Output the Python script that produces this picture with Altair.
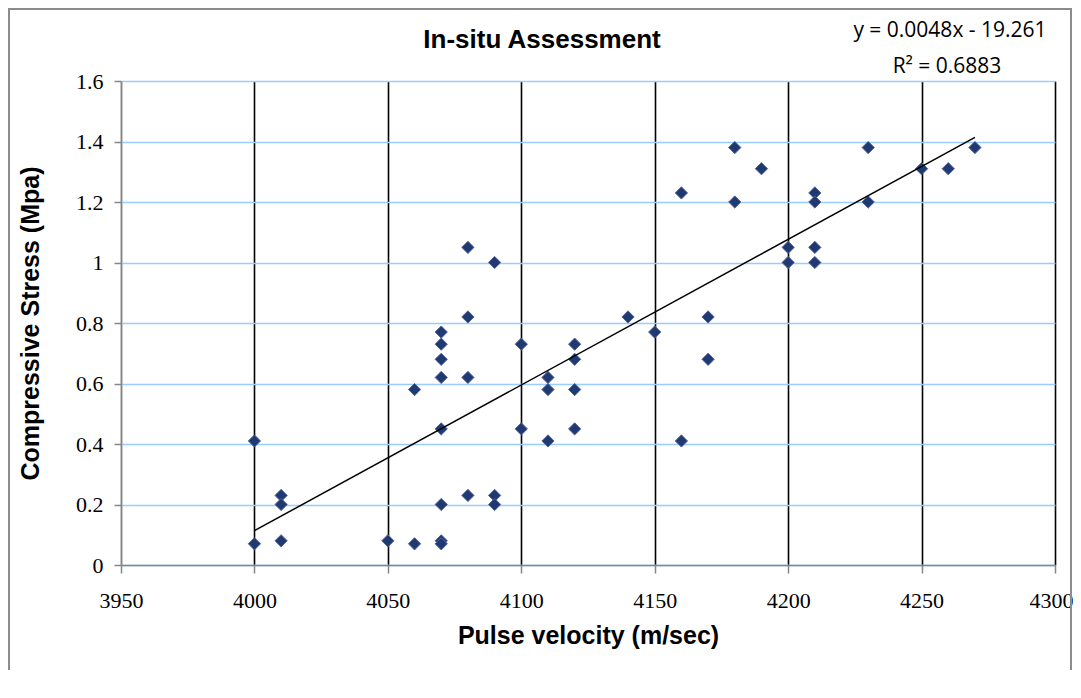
import altair as alt
import pandas as pd

# Pulse velocity (m/sec) readings
velocity = [
    4000, 4000,
    4010, 4010, 4010,
    4050,
    4060, 4060,
    4070, 4070, 4070, 4070, 4070, 4070, 4070, 4070,
    4080, 4080, 4080, 4080,
    4090, 4090, 4090,
    4100, 4100,
    4110, 4110, 4110,
    4120, 4120, 4120, 4120,
    4140,
    4150,
    4160, 4160,
    4170, 4170,
    4180, 4180,
    4190,
    4200, 4200,
    4210, 4210, 4210, 4210,
    4230, 4230,
    4250,
    4260,
    4270,
]
# Compressive stress (Mpa) readings
stress = [
    0.07, 0.41,
    0.23, 0.20, 0.08,
    0.08,
    0.07, 0.58,
    0.77, 0.73, 0.68, 0.62, 0.45, 0.20, 0.08, 0.07,
    1.05, 0.82, 0.62, 0.23,
    1.00, 0.23, 0.20,
    0.73, 0.45,
    0.62, 0.58, 0.41,
    0.73, 0.68, 0.58, 0.45,
    0.82,
    0.77,
    1.23, 0.41,
    0.82, 0.68,
    1.38, 1.20,
    1.31,
    1.05, 1.00,
    1.23, 1.20, 1.05, 1.00,
    1.38, 1.20,
    1.31,
    1.31,
    1.38,
]

x_ticks = [3950, 4000, 4050, 4100, 4150, 4200, 4250, 4300]
y_ticks = [0, 0.2, 0.4, 0.6, 0.8, 1.0, 1.2, 1.4, 1.6]

chart_title = "In-situ Assessment"
x_title = "Pulse velocity (m/sec)"
y_title = "Compressive Stress (Mpa)"
equation = "y = 0.0048x - 19.261"
r_squared = "R² = 0.6883"

df = pd.DataFrame({"velocity": velocity, "stress": stress})

AXIS_GRAY = "#868686"

x_enc = alt.X(
    "velocity:Q",
    scale=alt.Scale(domain=[3950, 4300], nice=False, zero=False),
    axis=alt.Axis(
        values=x_ticks, format="d", title=x_title,
        grid=True,
        gridColor=alt.condition("datum.value == 3950", alt.value(AXIS_GRAY), alt.value("black")),
        gridWidth=1.6,
        domainColor=AXIS_GRAY, domainWidth=1.5,
        tickColor=AXIS_GRAY, tickSize=8, tickWidth=1.5,
        labelFont="Liberation Serif", labelFontSize=22, labelColor="black",
        labelPadding=17, labelFlush=False, labelOverlap=False,
        labelOffset=alt.condition("datum.value == 4300", alt.value(-4), alt.value(0)),
        titleFont="Liberation Sans", titleFontSize=25, titleFontWeight="bold",
        titleColor="black", titlePadding=12,
    ),
)
y_enc = alt.Y(
    "stress:Q",
    scale=alt.Scale(domain=[0, 1.6], nice=False),
    axis=alt.Axis(
        values=y_ticks, format="~g", title=y_title,
        grid=True, gridColor="#99CCFF", gridWidth=1.5,
        domainColor=AXIS_GRAY, domainWidth=1.5,
        tickColor=AXIS_GRAY, tickSize=7, tickWidth=1.5,
        labelFont="Liberation Serif", labelFontSize=22, labelColor="black",
        labelPadding=11, labelOverlap=False,
        titleFont="Liberation Sans", titleFontSize=25, titleFontWeight="bold",
        titleColor="black", titlePadding=32,
    ),
)

base = alt.Chart(df)

points = base.mark_point(
    shape="diamond", filled=True, size=150,
    fill="#1F3A70", stroke="#56609E", strokeWidth=1,
    opacity=1, fillOpacity=1, strokeOpacity=1,
).encode(x=x_enc, y=y_enc)

trend = base.transform_regression("velocity", "stress").mark_line(
    color="black", strokeWidth=1.5
).encode(x=alt.X("velocity:Q"), y=alt.Y("stress:Q"))

one = pd.DataFrame({"k": [0]})
border = alt.Chart(one).mark_rect(
    fill="white", fillOpacity=0, stroke="#8C8C8C", strokeWidth=2
).encode(
    x=alt.value(-112), x2=alt.value(950),
    y=alt.value(-72), y2=alt.value(700),
)

def label(text, x, y, font, size, weight="normal"):
    return alt.Chart(pd.DataFrame({"t": [text]})).mark_text(
        font=font, fontSize=size, fontWeight=weight, color="black",
        align="center", baseline="alphabetic",
    ).encode(text="t:N", x=alt.value(x), y=alt.value(y))

title_txt = label(chart_title, 421, -33, "Liberation Sans", 26, "bold")
eq_txt = label(equation, 829, -44, "Open Sans", 21)
r2_txt = label(r_squared, 826, -8, "Open Sans", 21)

chart = alt.layer(
    border, points, trend, title_txt, eq_txt, r2_txt
).properties(
    width=934, height=484,
    padding={"left": 113, "top": 73, "right": 18, "bottom": 105},
    autosize=alt.AutoSizeParams(type="none"),
    background="white",
).configure_view(stroke=None)

chart.save("out.html", embed_options={"renderer": "svg", "actions": False})
